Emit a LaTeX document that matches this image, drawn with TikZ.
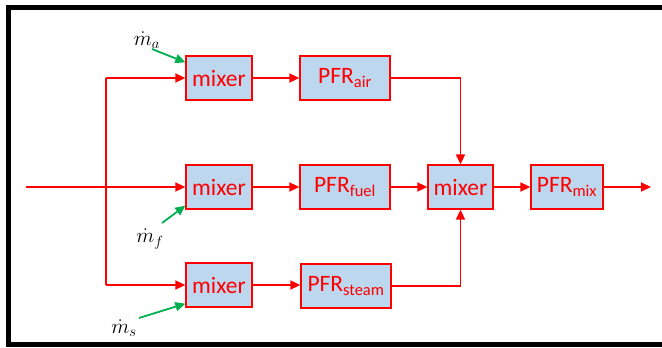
\documentclass[tikz,border=0pt]{standalone}
\usepackage{fix-cm}
\usepackage{fontspec}
\setmainfont{Carlito}
\usetikzlibrary{arrows.meta,positioning}
\definecolor{boxfill}{RGB}{189,215,238}
\definecolor{flowred}{RGB}{255,0,0}
\definecolor{feedgreen}{RGB}{0,176,80}
\tikzset{
  blk/.style={draw=flowred, line width=1.3pt, fill=boxfill, text=flowred,
    minimum height=44pt, inner sep=0pt, font=\fontsize{23.5}{25}\selectfont},
  mixbox/.style={blk, minimum width=66pt},
  pfrbox/.style={blk, minimum width=90pt},
  flow/.style={draw=flowred, line width=1.8pt, -{Triangle[length=10pt,width=9pt]}},
  plainflow/.style={draw=flowred, line width=1.8pt},
  feed/.style={draw=feedgreen, line width=1.8pt, -{Triangle[length=10pt,width=9pt]}},
  flabel/.style={inner sep=0pt, font=\fontsize{21}{23}\selectfont},
  frameline/.style={draw=black, line width=5pt}
}
\begin{document}
\begin{tikzpicture}[x=1pt,y=-1pt]
\useasboundingbox (0,0) rectangle (662,348);
% frame
\draw[frameline] (662,7.5) -- (8.5,7.5) -- (8.5,344.5) -- (662,344.5);
% boxes
\node[mixbox] (mixA) at (219,78) {mixer};
\node[pfrbox] (PFRa) at (345,78) {PFR\textsubscript{air}};
\node[mixbox] (mixF) at (219,187) {mixer};
\node[pfrbox] (PFRf) at (345,187) {PFR\textsubscript{fuel}};
\node[mixbox, minimum width=65pt] (mixC) at (460.5,187) {mixer};
\node[blk, minimum width=72pt] (PFRm) at (567,187) {PFR\textsubscript{mix}};
\node[mixbox] (mixS) at (219,285) {mixer};
\node[pfrbox] (PFRs) at (346,286) {PFR\textsubscript{steam}};
% inlet and branches
\coordinate (in) at (26,187);
\coordinate (brA) at (106,78);
\coordinate (brS) at (106,285);
\coordinate (out) at (651,187);
\draw[plainflow] (brA) -- (brS);
\draw[flow] (in) -- (mixF.west);
\draw[flow] (brA) -- (mixA.west);
\draw[flow] (brS) -- (mixS.west);
\draw[flow] (mixA) -- (PFRa);
\draw[flow] (mixF) -- (PFRf);
\draw[flow] (mixS.east) -- (mixS.east -| PFRs.west);
\draw[flow] (PFRa.east) -| (mixC.north);
\draw[flow] (PFRs.east) -| (mixC.south);
\draw[flow] (PFRf) -- (mixC);
\draw[flow] (mixC) -- (PFRm);
\draw[flow] (PFRm.east) -- (out);
% feeds
\node[flabel] (la) at (147,40) {$\dot m_a$};
\node[flabel] (lf) at (150,239) {$\dot m_f$};
\node[flabel] (ls) at (124,328) {$\dot m_s$};
\coordinate (sa) at (152,49);
\coordinate (sf) at (162,223);
\coordinate (ss) at (139,318);
\draw[feed] (sa) -- ([yshift=-7pt]mixA.north west);
\draw[feed] (sf) -- ([yshift=4pt]mixF.south west);
\draw[feed] (ss) -- ([yshift=4pt]mixS.south west);
\end{tikzpicture}
\end{document}
